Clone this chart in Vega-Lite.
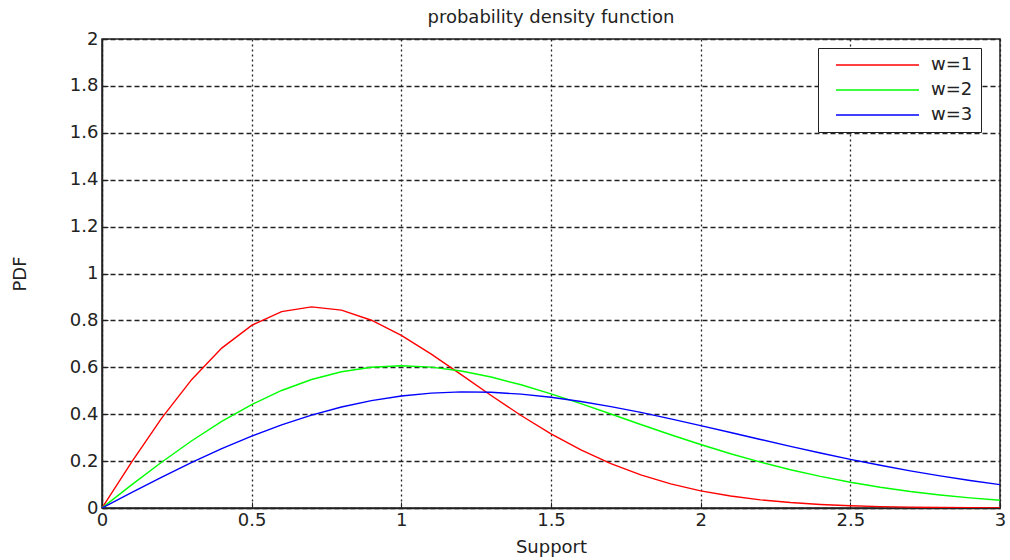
{
  "$schema": "https://vega.github.io/schema/vega-lite/v6.json",
  "width": 898,
  "height": 469,
  "autosize": "none",
  "padding": {"left": 102, "top": 39, "right": 10, "bottom": 52},
  "background": "white",
  "title": {"text": "probability density function", "font": "DejaVu Sans", "fontSize": 18, "fontWeight": "normal", "color": "#222", "offset": 3},
  "config": {
    "view": {"stroke": "#222", "strokeWidth": 1.5},
    "axis": {"labelFont": "DejaVu Sans", "labelFontSize": 18, "labelColor": "#222", "titleFont": "DejaVu Sans", "titleFontSize": 18, "titleFontWeight": "normal", "titleColor": "#222", "domainColor": "#222", "domainWidth": 1.5, "tickColor": "#222", "gridColor": "#222", "gridOpacity": 1, "gridWidth": 1.3}
  },
  "data": {"values": [
    {"x":0,"y":0,"w":"w=1"},{"x":0.1,"y":0.19801,"w":"w=1"},{"x":0.2,"y":0.38432,"w":"w=1"},{"x":0.3,"y":0.54836,"w":"w=1"},{"x":0.4,"y":0.68172,"w":"w=1"},{"x":0.5,"y":0.7788,"w":"w=1"},{"x":0.6,"y":0.83721,"w":"w=1"},{"x":0.7,"y":0.85768,"w":"w=1"},{"x":0.8,"y":0.84367,"w":"w=1"},{"x":0.9,"y":0.80074,"w":"w=1"},{"x":1.0,"y":0.73576,"w":"w=1"},{"x":1.1,"y":0.65603,"w":"w=1"},{"x":1.2,"y":0.56863,"w":"w=1"},{"x":1.3,"y":0.47975,"w":"w=1"},{"x":1.4,"y":0.3944,"w":"w=1"},{"x":1.5,"y":0.3162,"w":"w=1"},{"x":1.6,"y":0.24738,"w":"w=1"},{"x":1.7,"y":0.18896,"w":"w=1"},{"x":1.8,"y":0.14099,"w":"w=1"},{"x":1.9,"y":0.1028,"w":"w=1"},{"x":2.0,"y":0.07326,"w":"w=1"},{"x":2.1,"y":0.05105,"w":"w=1"},{"x":2.2,"y":0.03479,"w":"w=1"},{"x":2.3,"y":0.02319,"w":"w=1"},{"x":2.4,"y":0.01512,"w":"w=1"},{"x":2.5,"y":0.00965,"w":"w=1"},{"x":2.6,"y":0.00603,"w":"w=1"},{"x":2.7,"y":0.00369,"w":"w=1"},{"x":2.8,"y":0.00221,"w":"w=1"},{"x":2.9,"y":0.00129,"w":"w=1"},{"x":3.0,"y":0.00074,"w":"w=1"},
    {"x":0,"y":0,"w":"w=2"},{"x":0.1,"y":0.0995,"w":"w=2"},{"x":0.2,"y":0.19604,"w":"w=2"},{"x":0.3,"y":0.2868,"w":"w=2"},{"x":0.4,"y":0.36925,"w":"w=2"},{"x":0.5,"y":0.44125,"w":"w=2"},{"x":0.6,"y":0.50116,"w":"w=2"},{"x":0.7,"y":0.54789,"w":"w=2"},{"x":0.8,"y":0.58092,"w":"w=2"},{"x":0.9,"y":0.60028,"w":"w=2"},{"x":1.0,"y":0.60653,"w":"w=2"},{"x":1.1,"y":0.60068,"w":"w=2"},{"x":1.2,"y":0.5841,"w":"w=2"},{"x":1.3,"y":0.55842,"w":"w=2"},{"x":1.4,"y":0.52544,"w":"w=2"},{"x":1.5,"y":0.48698,"w":"w=2"},{"x":1.6,"y":0.44486,"w":"w=2"},{"x":1.7,"y":0.40077,"w":"w=2"},{"x":1.8,"y":0.35622,"w":"w=2"},{"x":1.9,"y":0.3125,"w":"w=2"},{"x":2.0,"y":0.27067,"w":"w=2"},{"x":2.1,"y":0.23153,"w":"w=2"},{"x":2.2,"y":0.19563,"w":"w=2"},{"x":2.3,"y":0.16331,"w":"w=2"},{"x":2.4,"y":0.13472,"w":"w=2"},{"x":2.5,"y":0.10984,"w":"w=2"},{"x":2.6,"y":0.08852,"w":"w=2"},{"x":2.7,"y":0.07053,"w":"w=2"},{"x":2.8,"y":0.05555,"w":"w=2"},{"x":2.9,"y":0.04327,"w":"w=2"},{"x":3.0,"y":0.03333,"w":"w=2"},
    {"x":0,"y":0,"w":"w=3"},{"x":0.1,"y":0.06645,"w":"w=3"},{"x":0.2,"y":0.13157,"w":"w=3"},{"x":0.3,"y":0.19409,"w":"w=3"},{"x":0.4,"y":0.25282,"w":"w=3"},{"x":0.5,"y":0.30668,"w":"w=3"},{"x":0.6,"y":0.35477,"w":"w=3"},{"x":0.7,"y":0.39634,"w":"w=3"},{"x":0.8,"y":0.43087,"w":"w=3"},{"x":0.9,"y":0.45803,"w":"w=3"},{"x":1.0,"y":0.47769,"w":"w=3"},{"x":1.1,"y":0.48993,"w":"w=3"},{"x":1.2,"y":0.49503,"w":"w=3"},{"x":1.3,"y":0.49339,"w":"w=3"},{"x":1.4,"y":0.48561,"w":"w=3"},{"x":1.5,"y":0.47237,"w":"w=3"},{"x":1.6,"y":0.45439,"w":"w=3"},{"x":1.7,"y":0.43249,"w":"w=3"},{"x":1.8,"y":0.40752,"w":"w=3"},{"x":1.9,"y":0.38026,"w":"w=3"},{"x":2.0,"y":0.35146,"w":"w=3"},{"x":2.1,"y":0.3219,"w":"w=3"},{"x":2.2,"y":0.29219,"w":"w=3"},{"x":2.3,"y":0.26293,"w":"w=3"},{"x":2.4,"y":0.23457,"w":"w=3"},{"x":2.5,"y":0.20752,"w":"w=3"},{"x":2.6,"y":0.18208,"w":"w=3"},{"x":2.7,"y":0.15847,"w":"w=3"},{"x":2.8,"y":0.13682,"w":"w=3"},{"x":2.9,"y":0.1172,"w":"w=3"},{"x":3.0,"y":0.09957,"w":"w=3"}
  ]},
  "mark": {"type": "line", "strokeWidth": 1.4, "clip": true},
  "encoding": {
    "x": {"field": "x", "type": "quantitative", "scale": {"domain": [0, 3], "nice": false, "zero": false},
      "axis": {"title": "Support", "values": [0, 0.5, 1, 1.5, 2, 2.5, 3], "format": "~g", "gridDash": [2, 3], "tickSize": -6, "labelPadding": 9, "titlePadding": 9, "labelFlush": false}},
    "y": {"field": "y", "type": "quantitative", "scale": {"domain": [0, 2], "nice": false},
      "axis": {"title": "PDF", "values": [0, 0.2, 0.4, 0.6, 0.8, 1, 1.2, 1.4, 1.6, 1.8, 2], "format": "~g", "gridDash": [5, 3], "tickSize": -6, "labelPadding": 10, "titlePadding": 40}},
    "color": {"field": "w", "type": "nominal", "scale": {"domain": ["w=1", "w=2", "w=3"], "range": ["#ff0000", "#00ff00", "#0000ff"]},
      "legend": {"title": null, "orient": "none", "legendX": 716, "legendY": 9, "direction": "vertical", "fillColor": "white", "strokeColor": "#222", "padding": 8, "symbolType": "M0.17,0H14", "symbolSize": 144, "symbolStrokeWidth": 1.5, "labelFont": "DejaVu Sans", "labelFontSize": 18, "labelColor": "#222", "labelOffset": 87, "rowPadding": 7}}
  }
}
